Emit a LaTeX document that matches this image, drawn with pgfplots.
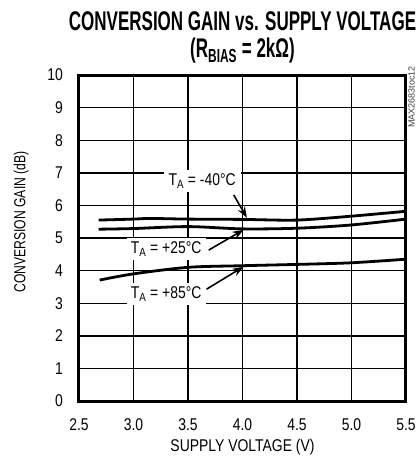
\documentclass[border=0pt]{standalone}
\usepackage{fontspec}
\setmainfont{Liberation Sans}[FakeStretch=0.82]
\newfontfamily\titlefont{Liberation Sans}[FakeStretch=0.63]
\newfontfamily\ylabfont{Liberation Sans}[FakeStretch=0.76]
\newfontfamily\smallfont{Liberation Sans}
\usepackage{pgfplots}
\pgfplotsset{compat=1.18}
\usetikzlibrary{arrows.meta}

\pgfplotstableread{
V G
2.68 5.55
3.0 5.58
3.15 5.60
3.5 5.58
4.0 5.57
4.5 5.55
5.0 5.67
5.5 5.82
}\cold
\pgfplotstableread{
V G
2.68 5.27
3.0 5.29
3.5 5.35
4.0 5.28
4.5 5.30
5.0 5.40
5.5 5.58
}\room
\pgfplotstableread{
V G
2.69 3.71
3.0 3.90
3.5 4.10
4.0 4.15
4.5 4.19
5.0 4.24
5.5 4.35
}\hot

\begin{document}
\begin{tikzpicture}
\path[use as bounding box] (-79pt,-55pt) rectangle (337pt,401pt);
\begin{axis}[
  at={(0,0)}, anchor=south west,
  scale only axis, width=327pt, height=326pt,
  xmin=2.5, xmax=5.5, ymin=0, ymax=10,
  xtick={2.5,3.0,3.5,4.0,4.5,5.0,5.5},
  xticklabels={2.5,3.0,3.5,4.0,4.5,5.0,5.5},
  ytick={0,1,2,3,4,5,6,7,8,9,10},
  major tick length=0pt,
  grid=major,
  major grid style={black, line width=1.4pt},
  axis line style={line width=1pt},
  /pgf/number format/assume math mode=true,
  tick label style={font=\fontsize{17}{19}\selectfont},
  yticklabel style={anchor=east, inner sep=0pt, xshift=-16pt},
  xticklabel style={anchor=base, inner sep=0pt, yshift=-29.5pt},
  clip=false,
]
\addplot[black, line width=2.8pt, smooth, tension=0.5] table[x=V,y=G] {\cold};
\addplot[black, line width=2.8pt, smooth, tension=0.5] table[x=V,y=G] {\room};
\addplot[black, line width=2.8pt, smooth, tension=0.5] table[x=V,y=G] {\hot};

\draw[line width=3pt] (rel axis cs:0,0) rectangle (rel axis cs:1,1);

\node[fill=white, inner xsep=5pt, inner ysep=4pt, font=\fontsize{17}{19}\selectfont] at (axis cs:3.63,6.75) {T\textsubscript{A} = -40°C};
\node[fill=white, inner xsep=4pt, inner ysep=4pt, font=\fontsize{17}{19}\selectfont] at (axis cs:3.30,4.66) {T\textsubscript{A} = +25°C};
\node[fill=white, inner xsep=4pt, inner ysep=4pt, font=\fontsize{17}{19}\selectfont] at (axis cs:3.30,3.28) {T\textsubscript{A} = +85°C};
\draw[-{Stealth[length=11pt,width=8pt]}, line width=1.6pt] (axis cs:3.92,6.32) -- (axis cs:4.04,5.62);
\draw[-{Stealth[length=11pt,width=8pt]}, line width=1.6pt] (axis cs:3.69,4.63) -- (axis cs:4.01,5.25);
\draw[-{Stealth[length=11pt,width=8pt]}, line width=1.6pt] (axis cs:3.67,3.43) -- (axis cs:4.01,4.12);

\node[anchor=base, inner sep=0pt, font=\titlefont\bfseries\fontsize{27}{30}\selectfont] at (rel axis cs:0.5,1.135) {CONVERSION GAIN vs. SUPPLY VOLTAGE};
\node[anchor=base, inner sep=0pt, font=\titlefont\bfseries\fontsize{27}{30}\selectfont] at (rel axis cs:0.5,1.053) {(R\textsubscript{BIAS} = 2kΩ)};
\node[rotate=90, font=\ylabfont\fontsize{16}{18}\selectfont] at (rel axis cs:-0.177,0.549) {CONVERSION GAIN (dB)};
\node[anchor=base, inner sep=0pt, font=\fontsize{17}{19}\selectfont] at (rel axis cs:0.5,-0.156) {SUPPLY VOLTAGE (V)};
\node[rotate=90, text=black!75, font=\smallfont\fontsize{9}{10}\selectfont] at (rel axis cs:1.017,0.932) {MAX2683toc12};
\end{axis}
\end{tikzpicture}
\end{document}
